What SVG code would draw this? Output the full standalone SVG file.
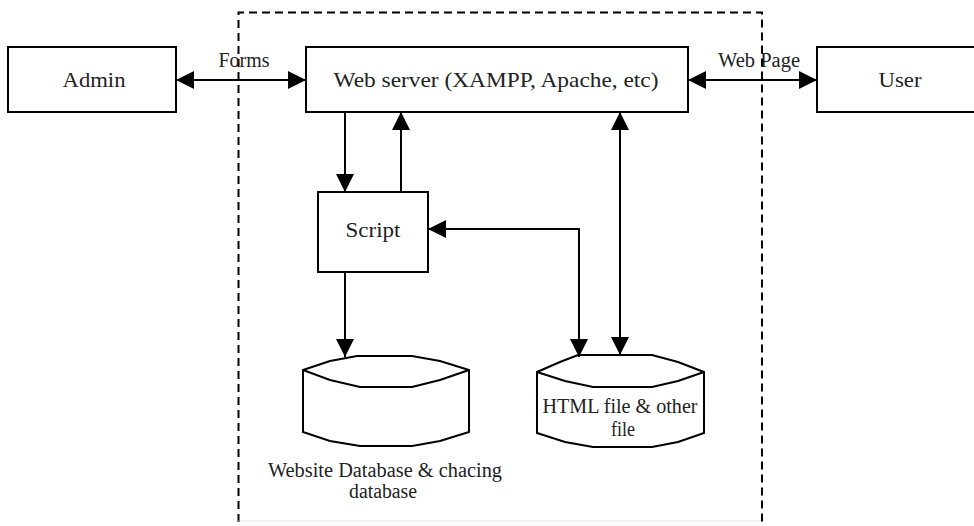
<svg xmlns="http://www.w3.org/2000/svg" width="974" height="526" viewBox="0 0 974 526">
<style>
.box{fill:#fff;stroke:#000;stroke-width:2}
.lbl{font-family:"Liberation Serif",serif;font-size:22px;fill:#222;text-anchor:middle}
.sm{font-family:"Liberation Serif",serif;font-size:20px;fill:#222;text-anchor:middle}
.con{fill:none;stroke:#000;stroke-width:2}
.bound{fill:none;stroke:#000;stroke-width:2;stroke-dasharray:8 5}
</style>
<defs>
<marker id="ah" viewBox="0 0 18 18" markerWidth="18" markerHeight="18" refX="18" refY="9" orient="auto-start-reverse" markerUnits="userSpaceOnUse">
<path d="M0,0 L18,9 L0,18 z" fill="#000"/>
</marker>
</defs>
<rect width="974" height="526" fill="#fff"/>
<g id="boundary">
<path class="bound" d="M238.5,522 V12.5 H762 V522"/>
<line x1="238" y1="521" x2="762" y2="521" stroke="#ccc" stroke-width="1" stroke-dasharray="1 1"/>
</g>
<g id="admin">
<rect class="box" x="8" y="47" width="168" height="65"/>
<text class="lbl" x="94" y="87" textLength="63" lengthAdjust="spacingAndGlyphs">Admin</text>
</g>
<g id="webserver">
<rect class="box" x="306" y="47" width="382" height="65"/>
<text class="lbl" x="496" y="87" textLength="325" lengthAdjust="spacingAndGlyphs">Web server (XAMPP, Apache, etc)</text>
</g>
<g id="user">
<rect class="box" x="817" y="47" width="170" height="65"/>
<text class="lbl" x="900" y="87" textLength="43" lengthAdjust="spacingAndGlyphs">User</text>
</g>
<g id="script">
<rect class="box" x="318" y="192" width="110" height="80"/>
<text class="lbl" x="373" y="237" textLength="55" lengthAdjust="spacingAndGlyphs">Script</text>
</g>
<g id="database">
<path class="box" d="M303,370 L330,361 L357,356 H412 L440,361 L469,370 V432 L440,441 L412,446 H360 L330,441 L303,432 Z"/>
<path class="con" d="M303,370 L330,380 L360,387 H412 L440,380 L469,370"/>
<text class="sm" x="385" y="477" textLength="234" lengthAdjust="spacingAndGlyphs">Website Database &amp; chacing</text>
<text class="sm" x="383" y="498" textLength="68" lengthAdjust="spacingAndGlyphs">database</text>
</g>
<g id="htmlfiles">
<path class="box" d="M537,372 L560,362 L578,355 H652 L678,362 L704,372 V433 L678,442 L652,447 H593 L565,442 L537,433 Z"/>
<path class="con" d="M537,372 L565,381 L593,387 H652 L678,381 L704,372"/>
<text class="sm" x="620" y="413" textLength="155" lengthAdjust="spacingAndGlyphs">HTML file &amp; other</text>
<text class="sm" x="623" y="436" textLength="24" lengthAdjust="spacingAndGlyphs">file</text>
</g>
<g id="connectors">
<line class="con" x1="176" y1="80" x2="306" y2="80" marker-start="url(#ah)" marker-end="url(#ah)"/>
<line class="con" x1="688" y1="80" x2="817" y2="80" marker-start="url(#ah)" marker-end="url(#ah)"/>
<line class="con" x1="345" y1="112" x2="345" y2="192" marker-end="url(#ah)"/>
<line class="con" x1="401" y1="192" x2="401" y2="112" marker-end="url(#ah)"/>
<path class="con" d="M428,229 H579 V357" marker-start="url(#ah)" marker-end="url(#ah)"/>
<line class="con" x1="620" y1="112" x2="620" y2="355" marker-start="url(#ah)" marker-end="url(#ah)"/>
<line class="con" x1="345" y1="272" x2="345" y2="357" marker-end="url(#ah)"/>
<text class="sm" x="244" y="67" textLength="51" lengthAdjust="spacingAndGlyphs">Forms</text>
<text class="sm" x="759" y="67" textLength="82" lengthAdjust="spacingAndGlyphs">Web Page</text>
</g>
</svg>
